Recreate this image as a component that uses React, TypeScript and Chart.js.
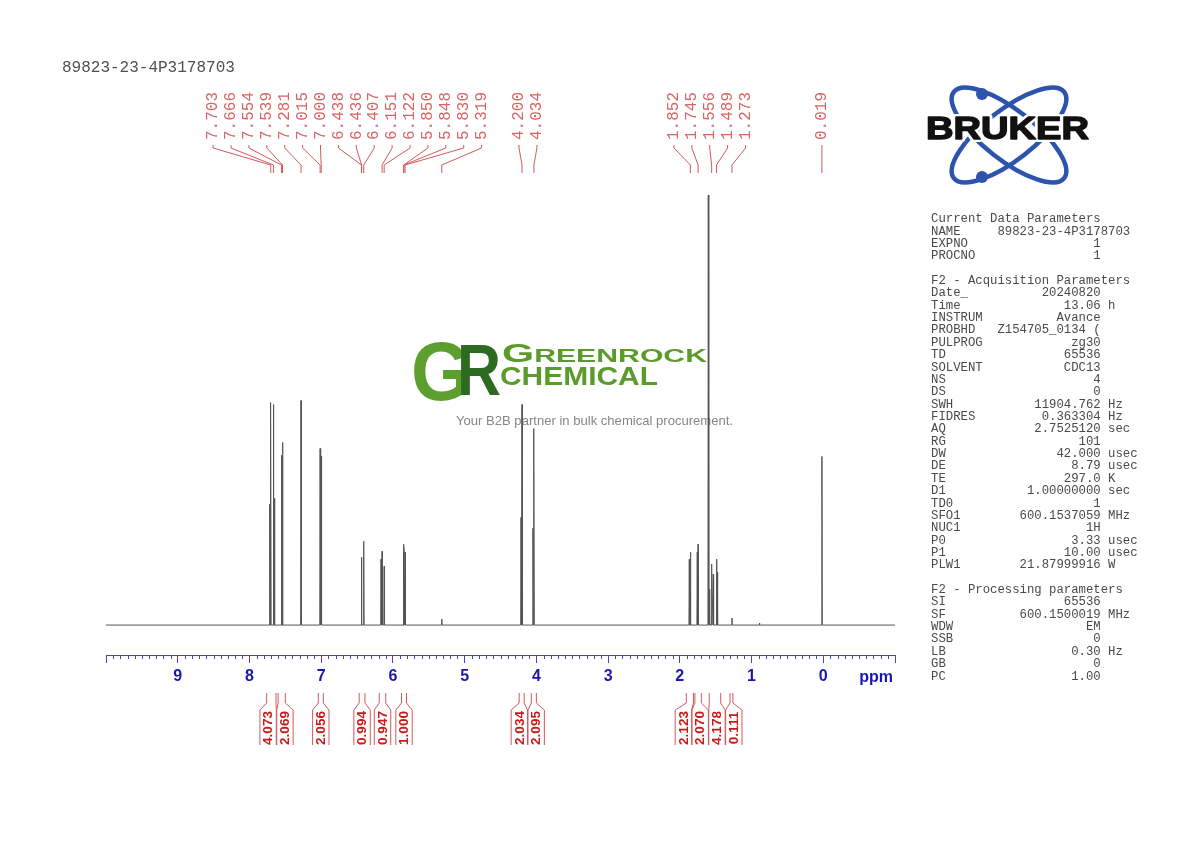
import React, { useEffect, useRef } from 'react';
import { Chart, registerables } from 'chart.js';
Chart.register(...registerables);

// ---------- data ----------
const TITLE = '89823-23-4P3178703';
const AXIS_MIN = -1;
const AXIS_MAX = 10;
const AXIS_LABELS = [9, 8, 7, 6, 5, 4, 3, 2, 1, 0];

// spectrum lines (ppm) and their heights (relative intensity units)
const LINE_PPM = [
  7.718, 7.703, 7.666, 7.651, 7.554, 7.539, 7.281, 7.015, 7.0,
  6.438, 6.436, 6.407, 6.166, 6.151, 6.122, 5.85, 5.848, 5.83, 5.319,
  4.214, 4.2, 4.048, 4.034,
  1.868, 1.852, 1.757, 1.745, 1.603, 1.589, 1.556, 1.534, 1.489, 1.478, 1.273,
  0.89, 0.019,
];
const LINE_HEIGHT = [
  121, 223, 221, 127, 170, 183, 225, 177, 169,
  68, 62, 84, 66, 74, 59, 81, 78, 73, 6,
  108, 221, 97, 197,
  66, 73, 73, 81, 431, 36, 61, 51, 66, 53, 7,
  2, 169,
];

// picked peaks shown at the top
const PEAK_LABELS = [
  '7.703', '7.666', '7.554', '7.539', '7.281', '7.015', '7.000', '6.438',
  '6.436', '6.407', '6.151', '6.122', '5.850', '5.848', '5.830', '5.319',
  '4.200', '4.034', '1.852', '1.745', '1.556', '1.489', '1.273', '0.019',
];

// integrals shown below the axis
const INTEGRAL_VALUES = ['4.073', '2.069', '2.056', '0.994', '0.947', '1.000', '2.034', '2.095', '2.123', '2.070', '4.178', '0.111'];
const INTEGRAL_FROM = [7.76, 7.6, 7.04, 6.47, 6.19, 5.88, 4.24, 4.07, 1.91, 1.79, 1.59, 1.3];
const INTEGRAL_TO = [7.63, 7.5, 6.97, 6.39, 6.1, 5.81, 4.17, 4.0, 1.81, 1.7, 1.43, 1.26];

// parameter block
const CURRENT_PARAMS: [string, string][] = [
  ['EXPNO', '1'],
  ['PROCNO', '1'],
];
const ACQ_PARAMS: [string, string, string][] = [
  ['Date_', '20240820', ''],
  ['Time', '13.06', 'h'],
  ['INSTRUM', 'Avance', ''],
  ['PROBHD', 'Z154705_0134 (', ''],
  ['PULPROG', 'zg30', ''],
  ['TD', '65536', ''],
  ['SOLVENT', 'CDC13', ''],
  ['NS', '4', ''],
  ['DS', '0', ''],
  ['SWH', '11904.762', 'Hz'],
  ['FIDRES', '0.363304', 'Hz'],
  ['AQ', '2.7525120', 'sec'],
  ['RG', '101', ''],
  ['DW', '42.000', 'usec'],
  ['DE', '8.79', 'usec'],
  ['TE', '297.0', 'K'],
  ['D1', '1.00000000', 'sec'],
  ['TD0', '1', ''],
  ['SFO1', '600.1537059', 'MHz'],
  ['NUC1', '1H', ''],
  ['P0', '3.33', 'usec'],
  ['P1', '10.00', 'usec'],
  ['PLW1', '21.87999916', 'W'],
];
const PROC_PARAMS: [string, string, string][] = [
  ['SI', '65536', ''],
  ['SF', '600.1500019', 'MHz'],
  ['WDW', 'EM', ''],
  ['SSB', '0', ''],
  ['LB', '0.30', 'Hz'],
  ['GB', '0', ''],
  ['PC', '1.00', ''],
];

// ---------- styles ----------
const BLUE_LINE = '#4646b6';
const BLUE_TEXT = '#1818b0';
const RED = '#d45858';
const RED_LABEL = '#d86464';
const RED_TEXT = '#cc1818';
const MONO = '"Liberation Mono", "DejaVu Sans Mono", monospace';
const SANS = '"Liberation Sans", Arial, sans-serif';

function buildTrace() {
  const hw = 0.005;
  const idx = LINE_PPM.map((_, i) => i).sort((a, b) => LINE_PPM[b] - LINE_PPM[a]);
  const pts: { x: number; y: number }[] = [{ x: AXIS_MAX, y: 0 }];
  for (const i of idx) {
    const p = LINE_PPM[i];
    pts.push({ x: p + hw, y: 0 }, { x: p, y: LINE_HEIGHT[i] }, { x: p - hw, y: 0 });
  }
  pts.push({ x: AXIS_MIN, y: 0 });
  return pts;
}

function spread(centers: number[], gap: number): number[] {
  let clusters = centers.map((c, i) => ({ n: 1, sum: c, start: i }));
  let merged = true;
  while (merged) {
    merged = false;
    for (let k = 0; k < clusters.length - 1; k++) {
      const a = clusters[k];
      const b = clusters[k + 1];
      const aRight = a.sum / a.n + ((a.n - 1) / 2) * gap;
      const bLeft = b.sum / b.n - ((b.n - 1) / 2) * gap;
      if (bLeft - aRight < gap) {
        clusters.splice(k, 2, { n: a.n + b.n, sum: a.sum + b.sum, start: a.start });
        merged = true;
        break;
      }
    }
  }
  const out: number[] = [];
  for (const c of clusters) {
    const m = c.sum / c.n;
    for (let j = 0; j < c.n; j++) out.push(m + (j - (c.n - 1) / 2) * gap);
  }
  return out;
}

function paramLines(): string[] {
  const row = (k: string, v: string, u: string, end = 23) => {
    const pad = Math.max(1, end - k.length - v.length);
    return k + ' '.repeat(pad) + v + (u ? ' ' + u : '');
  };
  const lines: string[] = [];
  lines.push('Current Data Parameters');
  lines.push(row('NAME', TITLE, '', 27));
  CURRENT_PARAMS.forEach(([k, v]) => lines.push(row(k, v, '')));
  lines.push('');
  lines.push('F2 - Acquisition Parameters');
  ACQ_PARAMS.forEach(([k, v, u]) => lines.push(row(k, v, u)));
  lines.push('');
  lines.push('F2 - Processing parameters');
  PROC_PARAMS.forEach(([k, v, u]) => lines.push(row(k, v, u)));
  return lines;
}

function drawWatermark(ctx: CanvasRenderingContext2D) {
  ctx.save();
  ctx.textBaseline = 'alphabetic';
  ctx.textAlign = 'left';
  // big G
  ctx.font = `bold 84px ${SANS}`;
  let w = ctx.measureText('G').width;
  ctx.save();
  ctx.translate(411, 400);
  ctx.scale(60 / w, 1);
  ctx.fillStyle = '#5d9f2f';
  ctx.fillText('G', 0, 0);
  ctx.restore();
  // R
  ctx.font = `bold 72px ${SANS}`;
  w = ctx.measureText('R').width;
  ctx.save();
  ctx.translate(457, 395);
  ctx.scale(44 / w, 1);
  ctx.fillStyle = '#2f6a22';
  ctx.fillText('R', 0, 0);
  ctx.restore();
  // GREENROCK
  ctx.fillStyle = '#5a9b2c';
  ctx.font = `bold 26px ${SANS}`;
  const wG = ctx.measureText('G').width;
  ctx.font = `bold 19px ${SANS}`;
  const wR = ctx.measureText('REENROCK').width;
  ctx.save();
  ctx.translate(502, 362);
  ctx.scale(205 / (wG + wR), 1);
  ctx.font = `bold 26px ${SANS}`;
  ctx.fillText('G', 0, 0);
  ctx.font = `bold 19px ${SANS}`;
  ctx.fillText('REENROCK', wG, 0);
  ctx.restore();
  // CHEMICAL
  ctx.font = `bold 25px ${SANS}`;
  w = ctx.measureText('CHEMICAL').width;
  ctx.save();
  ctx.translate(500, 385);
  ctx.scale(158 / w, 1);
  ctx.fillText('CHEMICAL', 0, 0);
  ctx.restore();
  // tagline
  const tag = 'Your B2B partner in bulk chemical procurement.';
  ctx.font = `13.5px ${SANS}`;
  w = ctx.measureText(tag).width;
  ctx.save();
  ctx.translate(456, 421);
  ctx.scale(277 / w, 1);
  ctx.textBaseline = 'middle';
  ctx.fillStyle = '#868686';
  ctx.fillText(tag, 0, 0);
  ctx.restore();
  ctx.restore();
}

function drawLogo(ctx: CanvasRenderingContext2D) {
  ctx.save();
  ctx.strokeStyle = '#2d53ad';
  ctx.lineWidth = 4.5;
  const cx = 1009;
  const cy = 135;
  [38, -38].forEach((deg) => {
    ctx.beginPath();
    ctx.ellipse(cx, cy, 70, 25, (deg * Math.PI) / 180, 0, Math.PI * 2);
    ctx.stroke();
  });
  ctx.fillStyle = '#2d53ad';
  [[982, 94], [982, 177]].forEach(([x, y]) => {
    ctx.beginPath();
    ctx.arc(x, y, 6, 0, Math.PI * 2);
    ctx.fill();
  });
  ctx.font = `bold 31px ${SANS}`;
  const w = ctx.measureText('BRUKER').width;
  ctx.translate(926, 130);
  ctx.scale(163 / w, 1);
  ctx.textBaseline = 'middle';
  ctx.textAlign = 'left';
  ctx.lineJoin = 'round';
  ctx.strokeStyle = '#ffffff';
  ctx.lineWidth = 6;
  ctx.strokeText('BRUKER', 0, 0);
  ctx.fillStyle = '#111111';
  ctx.fillText('BRUKER', 0, 0);
  ctx.strokeStyle = '#111111';
  ctx.lineWidth = 1.4;
  ctx.strokeText('BRUKER', 0, 0);
  ctx.restore();
}

const decorPlugin = {
  id: 'nmrDecor',
  beforeDatasetsDraw(chart: any) {
    drawWatermark(chart.ctx);
  },
  afterDraw(chart: any) {
    const ctx: CanvasRenderingContext2D = chart.ctx;
    const xs = chart.scales.x;
    const area = chart.chartArea;

    // minor ticks
    ctx.save();
    ctx.strokeStyle = BLUE_LINE;
    ctx.lineWidth = 1;
    ctx.beginPath();
    for (let i = AXIS_MIN * 10; i <= AXIS_MAX * 10; i++) {
      if (i % 10 === 0) continue;
      const x = Math.round(xs.getPixelForValue(i / 10)) + 0.5;
      ctx.moveTo(x, area.bottom);
      ctx.lineTo(x, area.bottom + 4);
    }
    ctx.stroke();
    // ppm unit
    ctx.fillStyle = BLUE_TEXT;
    ctx.font = `bold 16px ${SANS}`;
    ctx.textAlign = 'right';
    ctx.textBaseline = 'middle';
    ctx.fillText('ppm', 893, 678);
    ctx.restore();

    // title
    ctx.save();
    ctx.fillStyle = '#505050';
    ctx.font = `16px ${MONO}`;
    ctx.textBaseline = 'middle';
    ctx.textAlign = 'left';
    ctx.fillText(TITLE, 62, 68);
    ctx.restore();

    // peak labels
    const peakPpm = PEAK_LABELS.map((s) => parseFloat(s));
    const peakPx = peakPpm.map((p) => xs.getPixelForValue(p));
    const labelPx = spread(peakPx, 17.9);
    ctx.save();
    ctx.strokeStyle = RED;
    ctx.lineWidth = 1;
    ctx.fillStyle = RED_LABEL;
    ctx.font = `16px ${MONO}`;
    ctx.textBaseline = 'middle';
    ctx.textAlign = 'left';
    PEAK_LABELS.forEach((txt, i) => {
      const lx = labelPx[i];
      const px = peakPx[i];
      ctx.beginPath();
      ctx.moveTo(lx, 145);
      ctx.lineTo(lx, 148);
      ctx.lineTo(px, 165);
      ctx.lineTo(px, 173);
      ctx.stroke();
      ctx.save();
      ctx.translate(lx, 140);
      ctx.rotate(-Math.PI / 2);
      ctx.fillText(txt, 0, 0);
      ctx.restore();
    });
    ctx.restore();

    // integrals
    const fromPx = INTEGRAL_FROM.map((p) => xs.getPixelForValue(p));
    const toPx = INTEGRAL_TO.map((p) => xs.getPixelForValue(p));
    const boxC = spread(fromPx.map((f, i) => (f + toPx[i]) / 2), 16.8);
    ctx.save();
    ctx.strokeStyle = RED;
    ctx.lineWidth = 1;
    INTEGRAL_VALUES.forEach((v, i) => {
      const l = boxC[i] - 8.2;
      const r = boxC[i] + 8.2;
      ctx.beginPath();
      ctx.moveTo(fromPx[i], 693);
      ctx.lineTo(fromPx[i], 703);
      ctx.lineTo(l, 710);
      ctx.lineTo(l, 745);
      ctx.moveTo(toPx[i], 693);
      ctx.lineTo(toPx[i], 703);
      ctx.lineTo(r, 710);
      ctx.lineTo(r, 745);
      ctx.stroke();
      ctx.save();
      ctx.translate(boxC[i] + 0.5, 728);
      ctx.rotate(-Math.PI / 2);
      ctx.fillStyle = RED_TEXT;
      ctx.font = `bold 13.5px ${SANS}`;
      ctx.textAlign = 'center';
      ctx.textBaseline = 'middle';
      ctx.fillText(v, 0, 0);
      ctx.restore();
    });
    ctx.restore();

    // parameters
    ctx.save();
    ctx.fillStyle = '#4a4a4a';
    ctx.font = `12.3px ${MONO}`;
    ctx.textBaseline = 'middle';
    ctx.textAlign = 'left';
    paramLines().forEach((line, i) => {
      if (line) ctx.fillText(line, 931, 219 + i * 12.36);
    });
    ctx.restore();

    drawLogo(ctx);
  },
};

export default function App() {
  const ref = useRef<HTMLCanvasElement>(null);
  useEffect(() => {
    document.body.style.margin = '0';
    const canvas = ref.current;
    if (!canvas) return;
    const chart = new Chart(canvas, {
      type: 'line',
      data: {
        datasets: [
          {
            data: buildTrace(),
            borderColor: '#555555',
            borderWidth: 1,
            pointRadius: 0,
            tension: 0,
            fill: false,
          },
        ],
      },
      options: {
        animation: false,
        responsive: false,
        devicePixelRatio: 1,
        layout: { padding: { left: 106, right: 295, top: 190, bottom: 152.8 } },
        plugins: { legend: { display: false }, tooltip: { enabled: false } },
        events: [],
        scales: {
          x: {
            type: 'linear',
            reverse: true,
            min: AXIS_MIN,
            max: AXIS_MAX,
            grid: {
              drawOnChartArea: false,
              drawTicks: true,
              tickLength: 8,
              color: BLUE_LINE,
              lineWidth: 1,
            },
            border: { display: true, color: BLUE_LINE, width: 1 },
            ticks: {
              stepSize: 1,
              autoSkip: false,
              maxRotation: 0,
              padding: 3.5,
              color: BLUE_TEXT,
              font: { family: SANS, size: 16, weight: 'bold' },
              callback: (v: any) => (AXIS_LABELS.includes(Number(v)) ? String(v) : ''),
            },
          },
          y: { display: false, min: -30, max: 436 },
        },
      },
      plugins: [decorPlugin],
    } as any);
    return () => chart.destroy();
  }, []);
  return (
    <div style={{ position: 'relative', width: 1190, height: 842 }}>
      <canvas ref={ref} width={1190} height={842} style={{ display: 'block', width: 1190, height: 842 }} />
    </div>
  );
}
